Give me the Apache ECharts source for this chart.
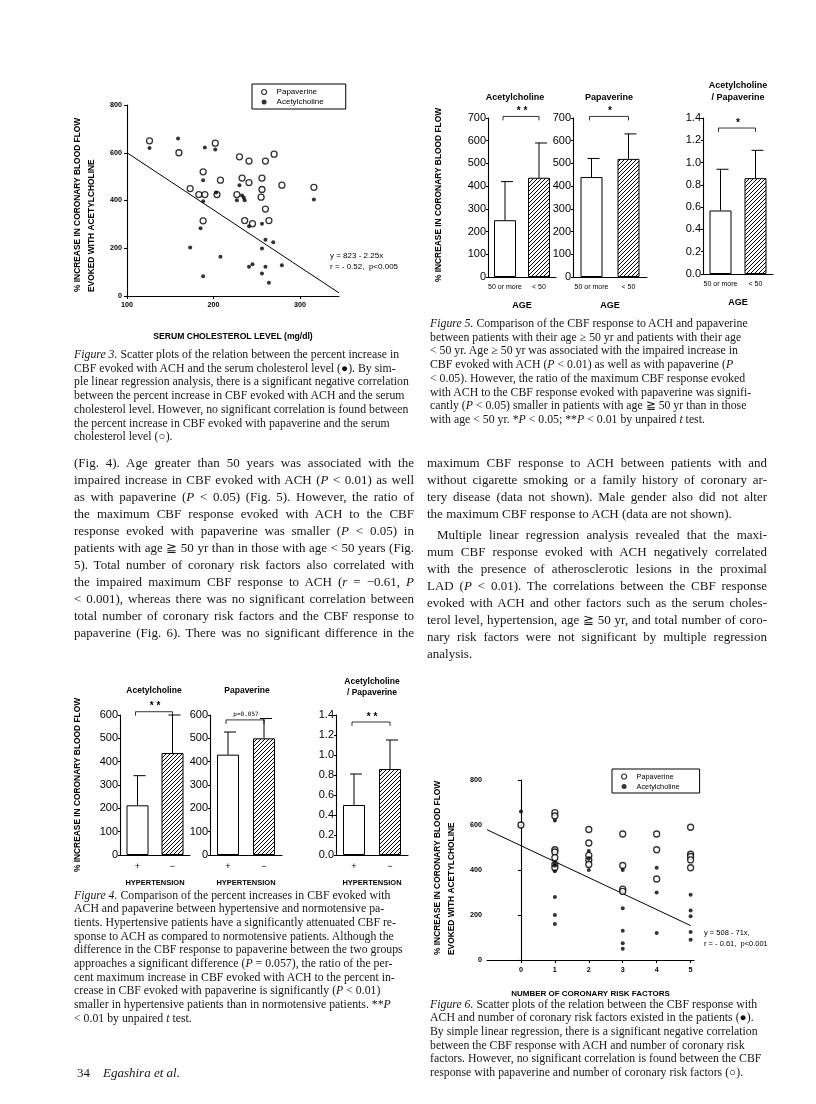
<!DOCTYPE html>
<html><head><meta charset="utf-8">
<script src="https://cdn.jsdelivr.net/npm/echarts@6/dist/echarts.min.js"></script>
<style>
html,body{margin:0;padding:0;background:#fff;}
#page{position:relative;width:816px;height:1104px;overflow:hidden;background:#fff;}
#chart{position:absolute;left:0;top:0;width:816px;height:1104px;}
.txt{position:absolute;font-family:"Liberation Serif","Times New Roman",serif;color:#161616;}
.txt div{white-space:nowrap;}
.txt span{display:inline-block;white-space:nowrap;}
.body{font-size:13px;line-height:17px;}
.cap{font-size:11.8px;line-height:13.7px;}
</style></head>
<body><div id="page">
<div id="chart"></div>

<div class="txt cap" style="left:74px;top:348px;width:340px" data-w="340">
<div><span><i>Figure 3.</i> Scatter plots of the relation between the percent increase in</span></div>
<div><span>CBF evoked with ACH and the serum cholesterol level (●). By sim-</span></div>
<div><span>ple linear regression analysis, there is a significant negative correlation</span></div>
<div><span>between the percent increase in CBF evoked with ACH and the serum</span></div>
<div><span>cholesterol level. However, no significant correlation is found between</span></div>
<div><span>the percent increase in CBF evoked with papaverine and the serum</span></div>
<div><span>cholesterol level (○).</span></div>
</div>

<div class="txt cap" style="left:430px;top:317px;width:340px" data-w="340">
<div><span><i>Figure 5.</i> Comparison of the CBF response to ACH and papaverine</span></div>
<div><span>between patients with their age ≥ 50 yr and patients with their age</span></div>
<div><span>&lt; 50 yr. Age ≥ 50 yr was associated with the impaired increase in</span></div>
<div><span>CBF evoked with ACH (<i>P</i> &lt; 0.01) as well as with papaverine (<i>P</i></span></div>
<div><span>&lt; 0.05). However, the ratio of the maximum CBF response evoked</span></div>
<div><span>with ACH to the CBF response evoked with papaverine was signifi-</span></div>
<div><span>cantly (<i>P</i> &lt; 0.05) smaller in patients with age ≧ 50 yr than in those</span></div>
<div><span>with age &lt; 50 yr. *<i>P</i> &lt; 0.05; **<i>P</i> &lt; 0.01 by unpaired <i>t</i> test.</span></div>
</div>

<div class="txt body" style="left:74px;top:453.5px;width:340px" data-w="340">
<div class="j"><span>(Fig. 4). Age greater than 50 years was associated with the</span></div>
<div class="j"><span>impaired increase in CBF evoked with ACH (<i>P</i> &lt; 0.01) as well</span></div>
<div class="j"><span>as with papaverine (<i>P</i> &lt; 0.05) (Fig. 5). However, the ratio of</span></div>
<div class="j"><span>the maximum CBF response evoked with ACH to the CBF</span></div>
<div class="j"><span>response evoked with papaverine was smaller (<i>P</i> &lt; 0.05) in</span></div>
<div class="j"><span>patients with age ≧ 50 yr than in those with age &lt; 50 years (Fig.</span></div>
<div class="j"><span>5). Total number of coronary risk factors also correlated with</span></div>
<div class="j"><span>the impaired maximum CBF response to ACH (<i>r</i> = −0.61, <i>P</i></span></div>
<div class="j"><span>&lt; 0.001), whereas there was no significant correlation between</span></div>
<div class="j"><span>total number of coronary risk factors and the CBF response to</span></div>
<div class="j"><span>papaverine (Fig. 6). There was no significant difference in the</span></div>
</div>

<div class="txt body" style="left:427px;top:453.5px;width:340px" data-w="340">
<div class="j"><span>maximum CBF response to ACH between patients with and</span></div>
<div class="j"><span>without cigarette smoking or a family history of coronary ar-</span></div>
<div class="j"><span>tery disease (data not shown). Male gender also did not alter</span></div>
<div><span>the maximum CBF response to ACH (data are not shown).</span></div>
</div>
<div class="txt body" style="left:427px;top:525.5px;width:340px" data-w="340">
<div class="j" data-ind="10" style="padding-left:10px"><span>Multiple linear regression analysis revealed that the maxi-</span></div>
<div class="j"><span>mum CBF response evoked with ACH negatively correlated</span></div>
<div class="j"><span>with the presence of atherosclerotic lesions in the proximal</span></div>
<div class="j"><span>LAD (<i>P</i> &lt; 0.01). The correlations between the CBF response</span></div>
<div class="j"><span>evoked with ACH and other factors such as the serum choles-</span></div>
<div class="j"><span>terol level, hypertension, age ≧ 50 yr, and total number of coro-</span></div>
<div class="j"><span>nary risk factors were not significant by multiple regression</span></div>
<div><span>analysis.</span></div>
</div>

<div class="txt cap" style="left:74px;top:888.5px;width:340px" data-w="340">
<div><span><i>Figure 4.</i> Comparison of the percent increases in CBF evoked with</span></div>
<div><span>ACH and papaverine between hypertensive and normotensive pa-</span></div>
<div><span>tients. Hypertensive patients have a significantly attenuated CBF re-</span></div>
<div><span>sponse to ACH as compared to normotensive patients. Although the</span></div>
<div><span>difference in the CBF response to papaverine between the two groups</span></div>
<div><span>approaches a significant difference (<i>P</i> = 0.057), the ratio of the per-</span></div>
<div><span>cent maximum increase in CBF evoked with ACH to the percent in-</span></div>
<div><span>crease in CBF evoked with papaverine is significantly (<i>P</i> &lt; 0.01)</span></div>
<div><span>smaller in hypertensive patients than in normotensive patients. **<i>P</i></span></div>
<div><span>&lt; 0.01 by unpaired <i>t</i> test.</span></div>
</div>

<div class="txt cap" style="left:430px;top:997.5px;width:340px" data-w="340">
<div><span><i>Figure 6.</i> Scatter plots of the relation between the CBF response with</span></div>
<div><span>ACH and number of coronary risk factors existed in the patients (●).</span></div>
<div><span>By simple linear regression, there is a significant negative correlation</span></div>
<div><span>between the CBF response with ACH and number of coronary risk</span></div>
<div><span>factors. However, no significant correlation is found between the CBF</span></div>
<div><span>response with papaverine and number of coronary risk factors (○).</span></div>
</div>

<div class="txt body" style="left:77px;top:1064px;width:200px">
<div><span>34&nbsp;&nbsp;&nbsp;&nbsp;<i>Egashira et al.</i></span></div>
</div>
</div>

<script>
// ---------------- DATA ----------------
// Figure 3: % increase in CBF vs serum cholesterol (mg/dl)
const fig3Papaverine = [[126,650],[160,600],[202,640],[188,520],[173,450],[183,425],[190,425],[204,425],
  [208,485],[188,315],[230,583],[241,565],[260,565],[270,594],[233,494],[241,475],[256,494],[256,446],
  [279,464],[316,455],[227,425],[255,414],[260,364],[236,316],[245,303],[264,316]];
const fig3Acetylcholine = [[126,620],[159,660],[190,622],[202,614],[188,485],[188,397],[203,434],[185,284],
  [173,203],[208,164],[188,83],[230,464],[227,401],[233,421],[235,411],[236,401],[241,292],[256,303],
  [260,236],[269,225],[256,199],[241,122],[245,133],[260,122],[279,129],[256,94],[264,55],[316,404]];
const fig3Regression = [[100,600],[345,13]];
const fig3XTicks = [100,200,300];

// Figure 5: by age
const ageGroups = ['50 or more', '< 50'];
const fig5AchMean = [250, 437];   const fig5AchSd = [170, 153];
const fig5PapMean = [440, 520];   const fig5PapSd = [82, 110];
const fig5RatioMean = [0.57, 0.86]; const fig5RatioSd = [0.37, 0.25];
const fig5Brackets = [[707, '* *'], [707, '*'], [1.31, '*']];

// Figure 4: by hypertension
const htnGroups = ['+', '−'];
const fig4AchMean = [213, 437];   const fig4AchSd = [127, 163];
const fig4PapMean = [430, 500];   const fig4PapSd = [97, 85];
const fig4RatioMean = [0.50, 0.86]; const fig4RatioSd = [0.31, 0.29];
const fig4Brackets = [[614, '* *'], [579, 'p=0.057'], [1.33, '* *']];

// Figure 6: CBF vs number of coronary risk factors
const fig6Papaverine = [[0,600],[1,655],[1,640],[1,490],[1,480],[1,455],[1,425],[1,410],
  [2,580],[2,520],[2,465],[2,445],[2,425],[3,560],[3,420],[3,315],[3,305],
  [4,560],[4,490],[4,360],[5,590],[5,470],[5,460],[5,445],[5,410]];
const fig6Acetylcholine = [[0,660],[1,620],[1,430],[1,420],[1,395],[1,280],[1,200],[1,160],
  [2,485],[2,450],[2,400],[3,400],[3,230],[3,130],[3,75],[3,50],
  [4,410],[4,300],[4,120],[5,290],[5,220],[5,195],[5,125],[5,90]];
const fig6Regression = [[-1,579],[5,153]];
const fig6XTicks = [0,1,2,3,4,5];

// ---------------- RENDER ----------------
const SANS = '"Liberation Sans", Arial, Helvetica, sans-serif';
const AX = {color:'#000', width:1.1};

const pc = document.createElement('canvas'); pc.width = 4; pc.height = 4;
const g = pc.getContext('2d');
g.fillStyle = '#fff'; g.fillRect(0,0,4,4);
g.strokeStyle = '#000'; g.lineWidth = 1;
g.beginPath(); g.moveTo(0,4); g.lineTo(4,0); g.moveTo(-1,1); g.lineTo(1,-1); g.moveTo(3,5); g.lineTo(5,3); g.stroke();
const hatch = {image: pc, repeat: 'repeat'};

const grids = [
  {left:127, top:105, width:212, height:191},
  {left:488, top:118, width:68, height:159},
  {left:573, top:118, width:74, height:159},
  {left:703, top:118, width:70, height:156},
  {left:120, top:715, width:70, height:140},
  {left:210, top:715, width:72, height:140},
  {left:336, top:715, width:72, height:140},
  {left:487, top:780, width:207, height:180}
].map(gr => Object.assign({containLabel:false, outerBoundsMode:'none'}, gr));

const smallBold = {fontFamily:SANS, fontWeight:'bold', fontSize:7.2, color:'#000'};

function catX(gi, cats, name, size) {
  return {gridIndex:gi, type:'category', data:cats, name:name, nameLocation:'middle', nameGap:24,
    nameTextStyle:{fontFamily:SANS, fontWeight:'bold', fontSize:name==='AGE'?9:7.5, color:'#000'},
    axisLine:{lineStyle:AX}, axisTick:{show:false}, splitLine:{show:false},
    axisLabel:{fontFamily:SANS, fontSize:size, color:'#000', margin:7, interval:0}};
}
function valY(gi, max, interval, ratio) {
  return {gridIndex:gi, type:'value', min:0, max:max, interval:interval,
    axisLine:{show:true, lineStyle:AX}, axisTick:{show:true, length:2, lineStyle:AX}, splitLine:{show:false},
    axisLabel:{fontFamily:SANS, fontSize:11, color:'#000', margin:2,
      formatter: v => ratio ? v.toFixed(1) : String(v)}};
}
function bars(gi, means) {
  return {type:'bar', xAxisIndex:gi, yAxisIndex:gi, barWidth:22, silent:true,
    itemStyle:{borderColor:'#000', borderWidth:1},
    data: means.map((v,i) => ({value:v, itemStyle:{color: i===0 ? '#fff' : hatch, borderColor:'#000', borderWidth:1}}))};
}
function errs(gi, means, sds) {
  return {type:'custom', xAxisIndex:gi, yAxisIndex:gi, clip:false, z:5, silent:true,
    data: means.map((m,i) => [i, m, m + sds[i]]),
    renderItem: (p, api) => {
      const a = api.coord([api.value(0), api.value(1)]);
      const b = api.coord([api.value(0), api.value(2)]);
      return {type:'group', children:[
        {type:'line', shape:{x1:a[0], y1:a[1], x2:b[0], y2:b[1]}, style:{stroke:'#000', lineWidth:1}},
        {type:'line', shape:{x1:b[0]-4, y1:b[1], x2:b[0]+8, y2:b[1]}, style:{stroke:'#000', lineWidth:1}}
      ]};
    }};
}
function bracket(gi, br) {
  const label = br[1];
  return {type:'custom', xAxisIndex:gi, yAxisIndex:gi, clip:false, z:5, silent:true,
    data: [[0, br[0]]],
    renderItem: (p, api) => {
      const a = api.coord([0, api.value(1)]);
      const b = api.coord([1, api.value(1)]);
      const isP = label.indexOf('p=') === 0;
      return {type:'group', children:[
        {type:'polyline', shape:{points:[[a[0]-2,a[1]+4],[a[0]-2,a[1]],[b[0],b[1]],[b[0],b[1]+4]]},
          style:{stroke:'#000', lineWidth:0.8, fill:null}},
        {type:'text', style:{text:label, x:(a[0]+b[0])/2, y:a[1]-(isP?2:0), textAlign:'center', textVerticalAlign:'bottom',
          font: isP ? '6px "DejaVu Sans Mono", monospace' : 'bold 10px ' + SANS, fill:'#000'}}
      ]};
    }};
}

const xAxis = [
  {gridIndex:0, type:'value', min:100, max:345, interval:100,
    name:'SERUM CHOLESTEROL LEVEL (mg/dl)', nameLocation:'middle', nameGap:36,
    nameTextStyle:{fontFamily:SANS, fontWeight:'bold', fontSize:8.6, color:'#000'},
    axisLine:{lineStyle:AX}, axisTick:{length:3, lineStyle:AX, customValues:fig3XTicks},
    axisLabel:Object.assign({margin:6, customValues:fig3XTicks}, smallBold), splitLine:{show:false}},
  catX(1, ageGroups, 'AGE', 7), catX(2, ageGroups, 'AGE', 7), catX(3, ageGroups, 'AGE', 7),
  catX(4, htnGroups, 'HYPERTENSION', 9), catX(5, htnGroups, 'HYPERTENSION', 9), catX(6, htnGroups, 'HYPERTENSION', 9),
  {gridIndex:7, type:'value', min:-1, max:5.1, interval:1,
    name:'NUMBER OF CORONARY RISK FACTORS', nameLocation:'middle', nameGap:30,
    nameTextStyle:{fontFamily:SANS, fontWeight:'bold', fontSize:8, color:'#000'},
    axisLine:{lineStyle:AX}, axisTick:{length:3, lineStyle:AX, customValues:fig6XTicks},
    axisLabel:Object.assign({margin:7, customValues:fig6XTicks}, smallBold), splitLine:{show:false}}
];
const yAxis = [
  {gridIndex:0, type:'value', min:0, max:800, interval:200, axisLine:{show:true, lineStyle:AX},
    axisTick:{show:true, length:3, lineStyle:AX}, splitLine:{show:false}, axisLabel:Object.assign({margin:5}, smallBold)},
  valY(1, 700, 100, false), valY(2, 700, 100, false), valY(3, 1.4, 0.2, true),
  valY(4, 600, 100, false), valY(5, 600, 100, false), valY(6, 1.4, 0.2, true),
  {gridIndex:7, type:'value', min:0, max:800, interval:200, axisLine:{show:true, lineStyle:AX},
    axisTick:{show:true, length:3, lineStyle:AX}, splitLine:{show:false}, axisLabel:Object.assign({margin:5}, smallBold)}
];

function scat(gi, name, data) {
  const open = name === 'Papaverine';
  return {type:'scatter', name:name, xAxisIndex:gi, yAxisIndex:gi, data:data, silent:true, z:4,
    symbol:'circle', symbolSize: open ? 6 : 4,
    itemStyle: open ? {color:'#fff', borderColor:'#000', borderWidth:1.3} : {color:'#000'}};
}
function regLine(gi, data) {
  return {type:'line', xAxisIndex:gi, yAxisIndex:gi, data:data, symbol:'none', silent:true, z:3,
    lineStyle:{color:'#000', width:1}};
}

const series = [
  regLine(0, fig3Regression), scat(0, 'Papaverine', fig3Papaverine), scat(0, 'Acetylcholine', fig3Acetylcholine),
  bars(1, fig5AchMean), errs(1, fig5AchMean, fig5AchSd), bracket(1, fig5Brackets[0]),
  bars(2, fig5PapMean), errs(2, fig5PapMean, fig5PapSd), bracket(2, fig5Brackets[1]),
  bars(3, fig5RatioMean), errs(3, fig5RatioMean, fig5RatioSd), bracket(3, fig5Brackets[2]),
  bars(4, fig4AchMean), errs(4, fig4AchMean, fig4AchSd), bracket(4, fig4Brackets[0]),
  bars(5, fig4PapMean), errs(5, fig4PapMean, fig4PapSd), bracket(5, fig4Brackets[1]),
  bars(6, fig4RatioMean), errs(6, fig4RatioMean, fig4RatioSd), bracket(6, fig4Brackets[2]),
  regLine(7, fig6Regression), scat(7, 'Papaverine', fig6Papaverine), scat(7, 'Acetylcholine', fig6Acetylcholine)
];

function legendAt(left, top, size, padR, gap) {
  return {left:left, top:top, orient:'vertical', borderColor:'#000', borderWidth:1, padding:[4,padR,3,9],
    itemGap:gap, itemWidth:5, itemHeight:5, selectedMode:false,
    textStyle:{fontFamily:SANS, fontSize:size, color:'#000', padding:[0,0,0,5]},
    data:[{name:'Papaverine', icon:'circle', itemStyle:{color:'#fff', borderColor:'#000', borderWidth:1.2}},
          {name:'Acetylcholine', icon:'circle', itemStyle:{color:'#000', borderWidth:0}}]};
}

function T(text, x, y, font, opts) {
  return Object.assign({type:'text', x:x, y:y, silent:true,
    style:{text:text, font:font, fill:'#000', textAlign:'center', textVerticalAlign:'middle'}}, opts || {});
}
const tB = n => 'bold ' + n + 'px ' + SANS;
function V(text, x, y, n, align) {
  return {type:'text', x:x, y:y, rotation:Math.PI/2, silent:true,
    style:{text:text, font:tB(n), fill:'#000', textAlign:align, textVerticalAlign:'middle'}};
}
const graphic = [
  V('% INCREASE IN CORONARY BLOOD FLOW', 78, 292, 8.4, 'left'),
  V('EVOKED WITH ACETYLCHOLINE', 92, 292, 8.4, 'left'),
  {type:'text', x:330, y:256, silent:true, style:{text:'y = 823 - 2.25x', font:'8px '+SANS, fill:'#000', textAlign:'left', textVerticalAlign:'middle'}},
  {type:'text', x:330, y:267, silent:true, style:{text:'r = - 0.52,  p<0.005', font:'8px '+SANS, fill:'#000', textAlign:'left', textVerticalAlign:'middle'}},
  V('% INCREASE IN CORONARY BLOOD FLOW', 439, 195, 8.4, 'center'),
  T('Acetylcholine', 515, 98, tB(9)), T('Papaverine', 609, 98, tB(9)),
  T('Acetylcholine', 738, 86, tB(9)), T('/ Papaverine', 738, 98, tB(9)),
  V('% INCREASE IN CORONARY BLOOD FLOW', 78, 785, 8.4, 'center'),
  T('Acetylcholine', 154, 691, tB(8.5)), T('Papaverine', 247, 691, tB(8.5)),
  T('Acetylcholine', 372, 682, tB(8.5)), T('/ Papaverine', 372, 693, tB(8.5)),
  V('% INCREASE IN CORONARY BLOOD FLOW', 438, 955, 8.4, 'left'),
  V('EVOKED WITH ACETYLCHOLINE', 452, 955, 8.4, 'left'),
  {type:'text', x:704, y:933, silent:true, style:{text:'y = 508 - 71x,', font:'7.5px '+SANS, fill:'#000', textAlign:'left', textVerticalAlign:'middle'}},
  {type:'text', x:704, y:944, silent:true, style:{text:'r = - 0.61,  p<0.001', font:'7.5px '+SANS, fill:'#000', textAlign:'left', textVerticalAlign:'middle'}}
];

const chart = echarts.init(document.getElementById('chart'));
chart.setOption({
  animation:false, backgroundColor:'#fff',
  grid:grids, xAxis:xAxis, yAxis:yAxis, series:series,
  legend:[legendAt(252, 84, 8, 22, 2), legendAt(612, 769, 7.3, 20, 3)],
  graphic:graphic
});

// justify body lines
document.querySelectorAll('.txt').forEach(block => {
  const W = parseFloat(block.dataset.w || 0);
  block.querySelectorAll('div.j').forEach(line => {
    const span = line.firstElementChild;
    const ind = parseFloat(line.dataset.ind || 0);
    const target = W - ind;
    const nat = span.getBoundingClientRect().width;
    const diff = target - nat;
    const txt = span.textContent;
    const sp = (txt.match(/ /g) || []).length;
    if (diff >= 0 && sp > 0) span.style.wordSpacing = (diff / sp) + 'px';
    else span.style.letterSpacing = (diff / txt.length) + 'px';
  });
});
</script>
</body></html>
